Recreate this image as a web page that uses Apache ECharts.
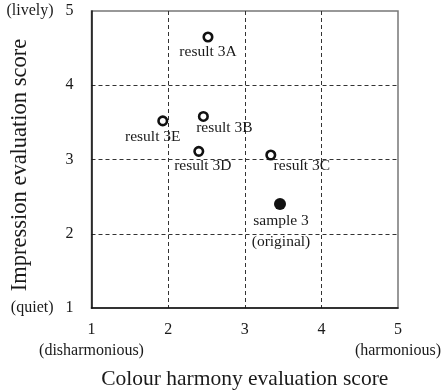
<!DOCTYPE html>
<html>
<head>
<meta charset="utf-8">
<script src="https://cdn.jsdelivr.net/npm/echarts@6/dist/echarts.min.js"></script>
<style>
html,body{margin:0;padding:0;background:#fff;}
#chart{width:447px;height:391px;}
</style>
</head>
<body>
<div id="chart"></div>
<script>
// ---- data ----
const pointNames = ['result 3A', 'result 3B', 'result 3C', 'result 3D', 'result 3E', 'sample 3\n(original)'];
const harmonyScores = [2.52, 2.46, 3.34, 2.40, 1.93, 3.46];
const impressionScores = [4.65, 3.58, 3.06, 3.11, 3.52, 2.40];
const isOriginal = [false, false, false, false, false, true];
const xTickNotes = {1: '(disharmonious)', 5: '(harmonious)'};
const yTickNotes = {5: '(lively)', 1: '(quiet)'};
const xTitle = 'Colour harmony evaluation score';
const yTitle = 'Impression evaluation score';

// ---- layout (label offsets relative to each point) ----
const labelOffsets = [[0, 15], [21, 11], [31, 11], [4, 15], [-10, 16], [1, 27]];

const font = 'Liberation Serif';
const txt = '#1a1a1a';

const data = harmonyScores.map((x, i) => {
  const hollow = !isOriginal[i];
  return {
    value: [x, impressionScores[i]],
    name: pointNames[i],
    symbolSize: hollow ? 8.5 : 12,
    itemStyle: hollow
      ? {color: '#fff', borderColor: '#111', borderWidth: 2.6, opacity: 1}
      : {color: '#111', borderWidth: 0, opacity: 1},
    label: {
      show: true,
      position: 'inside',
      offset: labelOffsets[i],
      formatter: p => p.name,
      fontFamily: font,
      fontSize: 15.5,
      lineHeight: 21,
      color: txt
    }
  };
});

const gridLine = {show: true, showMinLine: false, showMaxLine: false,
  lineStyle: {color: '#333', type: [4, 3], width: 1}};

const chart = echarts.init(document.getElementById('chart'), null, {renderer: 'canvas'});
chart.setOption({
  animation: false,
  backgroundColor: '#fff',
  grid: {left: 91.5, right: 49, top: 11, bottom: 83, show: true,
    containLabel: false, outerBoundsMode: 'none',
    borderColor: '#777', borderWidth: 1.5, backgroundColor: 'transparent'},
  xAxis: {
    type: 'value', min: 1, max: 5, interval: 1,
    name: xTitle, nameLocation: 'middle', nameGap: 60, nameMoveOverlap: false,
    nameTextStyle: {fontFamily: font, fontSize: 21.5, color: txt},
    axisLine: {show: true, lineStyle: {color: '#111', width: 1.5}},
    axisTick: {show: false},
    splitLine: gridLine,
    axisLabel: {
      margin: 11, fontFamily: font, fontSize: 16, color: txt, lineHeight: 21,
      formatter: v => xTickNotes[v] ? v + '\n' + xTickNotes[v] : String(v)
    }
  },
  yAxis: {
    type: 'value', min: 1, max: 5, interval: 1,
    name: yTitle, nameLocation: 'middle', nameGap: 60, nameRotate: 90, nameMoveOverlap: false,
    nameTextStyle: {fontFamily: font, fontSize: 22.5, color: txt, padding: [0, 11, 0, 0]},
    axisLine: {show: true, lineStyle: {color: '#111', width: 1.5}},
    axisTick: {show: false},
    splitLine: gridLine,
    axisLabel: {
      margin: 18, fontFamily: font, fontSize: 16, color: txt,
      formatter: v => yTickNotes[v] ? yTickNotes[v] + '   ' + v : String(v)
    }
  },
  series: [{
    type: 'scatter',
    symbol: 'circle',
    data: data,
    z: 5
  }]
});
</script>
</body>
</html>
